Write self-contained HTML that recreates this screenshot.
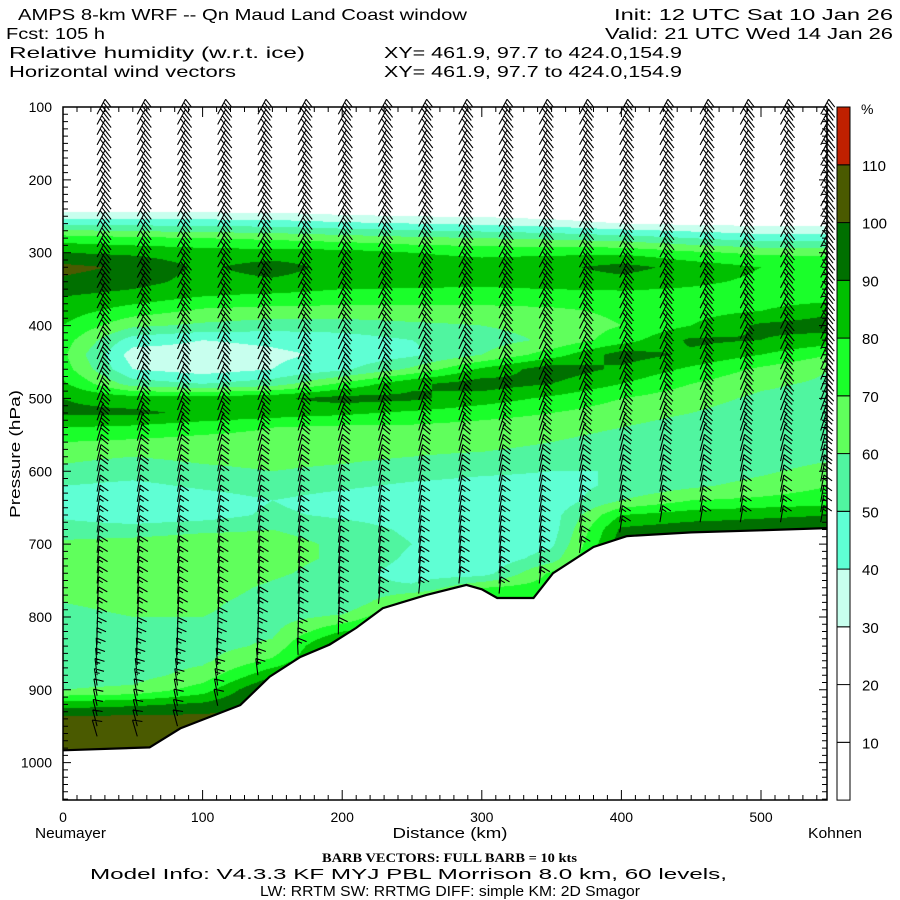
<!DOCTYPE html>
<html><head><meta charset="utf-8"><style>
html,body{margin:0;padding:0;background:#fff;}
#wrap{position:relative;width:900px;height:900px;overflow:hidden;background:#fff;}
#rh{position:absolute;left:63px;top:107px;}
#ov{position:absolute;left:0;top:0;}
text{font-family:"Liberation Sans",sans-serif;fill:#000;}
</style></head><body>
<div id="wrap">
<canvas id="rh" width="764" height="693"></canvas>
<svg id="ov" width="900" height="900">
<g id="hdr">
<text x="18" y="20" font-size="16" textLength="449" lengthAdjust="spacingAndGlyphs">AMPS 8-km WRF -- Qn Maud Land Coast window</text>
<text x="6" y="39" font-size="16" textLength="99" lengthAdjust="spacingAndGlyphs">Fcst:  105 h</text>
<text x="9" y="58" font-size="16" textLength="296" lengthAdjust="spacingAndGlyphs">Relative humidity (w.r.t. ice)</text>
<text x="9" y="77" font-size="16" textLength="227" lengthAdjust="spacingAndGlyphs">Horizontal wind vectors</text>
<text x="384" y="58" font-size="16" textLength="298" lengthAdjust="spacingAndGlyphs">XY= 461.9, 97.7 to 424.0,154.9</text>
<text x="384" y="77" font-size="16" textLength="298" lengthAdjust="spacingAndGlyphs">XY= 461.9, 97.7 to 424.0,154.9</text>
<text x="614" y="20" font-size="16" textLength="279" lengthAdjust="spacingAndGlyphs">Init: 12 UTC Sat 10 Jan 26</text>
<text x="605" y="39" font-size="16" textLength="288" lengthAdjust="spacingAndGlyphs">Valid: 21 UTC Wed 14 Jan 26</text>
</g>
<g id="terr"></g>
<g id="barbs"></g>
<g id="axes"></g>
<g id="cbar"></g>
<text x="450" y="838" font-size="15" text-anchor="middle" textLength="115" lengthAdjust="spacingAndGlyphs">Distance (km)</text>
<text x="35" y="838" font-size="15" textLength="71" lengthAdjust="spacingAndGlyphs">Neumayer</text>
<text x="808" y="838" font-size="15" textLength="54" lengthAdjust="spacingAndGlyphs">Kohnen</text>
<text transform="translate(20,454) rotate(-90)" font-size="15" text-anchor="middle" textLength="128" lengthAdjust="spacingAndGlyphs">Pressure (hPa)</text>
<text x="322" y="862" font-size="13" font-weight="bold" style="font-family:'Liberation Serif',serif" textLength="255" lengthAdjust="spacingAndGlyphs">BARB VECTORS:  FULL BARB = 10 kts</text>
<text x="90" y="879" font-size="15" textLength="637" lengthAdjust="spacingAndGlyphs">Model Info: V4.3.3   KF      MYJ PBL  Morrison          8.0 km,  60 levels,</text>
<text x="260" y="896" font-size="15" textLength="380" lengthAdjust="spacingAndGlyphs">LW: RRTM SW: RRTMG   DIFF: simple KM: 2D Smagor</text>
</svg>
</div>
<script>
// ---------- data ----------
const colKm = [0,50,100,150,200,250,300,350,400,450,500,550];
const levP = [100,220,240,260,280,300,320,340,360,380,400,420,440,460,480,500,520,540,560,580,600,620,640,660,680,700,720,740,760,780,800,820,840,860,880,900,920,940,960,980,1050];
const rhRows = [
[5,5,5,5,5,5,5,5,5,5,5,5],
[10,10,10,10,10,10,10,10,10,10,10,10],
[25,25,25,25,22,20,20,18,15,15,15,15],
[48,47,46,45,42,40,38,35,30,28,27,27],
[75,72,70,68,65,62,60,58,55,50,45,45],
[90,88,85,84,84,80,78,78,78,72,68,68],
[103,98,88,95,86,85,84,87,94,86,80,76],
[98,94,86,88,84,83,82,84,86,82,78,74],
[90,86,80,78,76,76,76,76,76,76,74,75],
[85,75,68,66,66,66,66,68,72,76,80,88],
[80,62,58,55,55,58,60,64,70,80,92,95],
[75,45,40,42,45,50,55,62,75,92,90,85],
[72,35,35,38,42,48,60,75,95,88,80,70],
[75,40,35,40,48,62,82,96,88,78,68,60],
[82,55,50,55,72,88,95,90,80,70,62,58],
[90,85,85,88,94,92,85,78,70,64,58,55],
[92,92,88,85,82,78,74,70,65,60,55,55],
[80,78,74,70,68,68,66,64,60,55,55,55],
[70,68,66,66,65,64,64,60,56,52,52,55],
[62,60,62,63,62,60,58,55,52,50,52,58],
[58,55,58,60,58,55,52,50,50,52,58,65],
[50,47,52,56,52,48,46,46,52,58,64,70],
[45,40,44,50,45,42,41,42,60,70,72,75],
[48,42,45,52,48,45,42,45,80,85,88,90],
[55,55,58,60,55,48,42,45,92,96,96,96],
[62,64,66,64,58,50,42,48,96,96,96,96],
[65,66,68,64,58,48,42,55,96,96,96,96],
[64,66,68,62,55,45,45,72,96,96,96,96],
[62,64,65,58,52,52,70,75,96,96,96,96],
[60,62,62,56,50,75,72,75,96,96,96,96],
[58,60,60,56,62,85,72,75,96,96,96,96],
[56,58,58,58,80,85,72,75,96,96,96,96],
[55,56,56,62,100,85,72,75,96,96,96,96],
[55,55,58,72,100,85,72,75,96,96,96,96],
[56,56,64,88,100,85,72,75,96,96,96,96],
[60,62,75,104,100,85,72,75,96,96,96,96],
[85,88,92,104,100,85,72,75,96,96,96,96],
[104,104,104,104,100,85,72,75,96,96,96,96],
[104,104,104,104,100,85,72,75,96,96,96,96],
[104,104,104,104,100,85,72,75,96,96,96,96],
[104,104,104,104,100,85,72,75,96,96,96,96]
];
const terrKm = [0,62,84,127,148,170,191,210,229,260,289,300,311,337,351,380,404,450,500,547];
const terrP = [983,979,953,921,882,855,838,815,788,770,756,762,774,774,740,704,689,684,681,678];
const barbColKm = [24.4,53.2,82.0,110.8,139.6,168.4,197.2,226.0,254.8,283.6,312.4,341.2,370.0,398.8,427.6,456.4,485.2,514.0,542.8];
const windP = [100,200,300,400,500,600,700,800,900,1000];
const windSpd = [35,35,35,35,30,20,15,15,15,10];
const windDir = [28,28,28,26,22,12,8,5,-10,-20];
const cbLevels = [10,20,30,40,50,60,70,80,90,100,110];
const cbColors = ["#ffffff","#ffffff","#ffffff","#c8ffee","#5fffd4","#50f5a0","#60ff5c","#1aff2a","#00c000","#007000","#4a5a00","#c02000"];
const yTickLabels = [100,200,300,400,500,600,700,800,900,1000];
const xTickLabels = [0,100,200,300,400,500];

// ---------- scales ----------
const X0=63,X1=827,Y0=107,Y1=800;
const kmPx=1.396, pPx=0.7285;
const xK=k=>X0+k*kmPx;
const yP=p=>Y0+(p-100)*pPx;
const NS="http://www.w3.org/2000/svg";
function mk(tag,attrs,parent){const e=document.createElementNS(NS,tag);for(const k in attrs)e.setAttribute(k,attrs[k]);parent.appendChild(e);return e;}
function interp1(xs,ys,x){if(x<=xs[0])return ys[0];for(let i=1;i<xs.length;i++){if(x<=xs[i]){const t=(x-xs[i-1])/(xs[i]-xs[i-1]);return ys[i-1]+t*(ys[i]-ys[i-1]);}}return ys[ys.length-1];}
function sfcP(k){return interp1(terrKm,terrP,k);}
function rhAt(k,p){
  let j=0;while(j<colKm.length-2&&k>colKm[j+1])j++;
  let i=0;while(i<levP.length-2&&p>levP[i+1])i++;
  let tx=(k-colKm[j])/(colKm[j+1]-colKm[j]);tx=Math.max(0,Math.min(1,tx));
  let ty=(p-levP[i])/(levP[i+1]-levP[i]);ty=Math.max(0,Math.min(1,ty));
  const a=rhRows[i][j],b=rhRows[i][j+1],c=rhRows[i+1][j],d=rhRows[i+1][j+1];
  return (a*(1-tx)+b*tx)*(1-ty)+(c*(1-tx)+d*tx)*ty;
}
function hex(c){return [parseInt(c.slice(1,3),16),parseInt(c.slice(3,5),16),parseInt(c.slice(5,7),16)];}
const rgb=cbColors.map(hex);
function colorIdx(v){let n=0;for(const l of cbLevels){if(v>=l)n++;}return n;}

// ---------- raster ----------
(function(){
  const cv=document.getElementById('rh'),ctx=cv.getContext('2d');
  const W=cv.width,H=cv.height,img=ctx.createImageData(W,H),d=img.data;
  for(let px=0;px<W;px++){
    const k=(px+0.5)/kmPx, ps=sfcP(k);
    for(let py=0;py<H;py++){
      const p=100+(py+0.5)/pPx;
      let c=[255,255,255];
      if(p<=ps){c=rgb[colorIdx(rhAt(k,p))];}
      const o=(py*W+px)*4;d[o]=c[0];d[o+1]=c[1];d[o+2]=c[2];d[o+3]=255;
    }
  }
  ctx.putImageData(img,0,0);
})();

// ---------- terrain line ----------
(function(){
  const g=document.getElementById('terr');
  let s='';for(let i=0;i<terrKm.length;i++){s+=(i?'L':'M')+xK(terrKm[i]).toFixed(1)+','+yP(terrP[i]).toFixed(1);}
  const pl=mk('path',{d:s,fill:'none',stroke:'#000','stroke-width':2.2},g);
  
  
})();

// ---------- barbs ----------
(function(){
  const g=document.getElementById('barbs');
  barbColKm.forEach((k,ci)=>{
    const ps=sfcP(k);let s='';
    for(let p=110;p<ps-4;p+=14){
      const spd=interp1(windP,windSpd,p),dir=interp1(windP,windDir,p)*Math.PI/180;
      const x=xK(k),y=yP(p),L=17;
      const dx=Math.sin(dir),dy=-Math.cos(dir);
      const tx=x+dx*L,ty=y+dy*L;
      s+=`M${x.toFixed(1)},${y.toFixed(1)}L${tx.toFixed(1)},${ty.toFixed(1)}`;
      const fa=dir+2.0, fx=Math.sin(fa), fy=-Math.cos(fa);
      let full=Math.floor(spd/10), half=(spd%10)>=5?1:0, pos=0;
      for(let f=0;f<full;f++){const bx=tx-dx*pos,by=ty-dy*pos;s+=`M${bx.toFixed(1)},${by.toFixed(1)}l${(fx*10).toFixed(1)},${(fy*10).toFixed(1)}`;pos+=3.5;}
      if(half){const bx=tx-dx*pos,by=ty-dy*pos;s+=`M${bx.toFixed(1)},${by.toFixed(1)}l${(fx*5).toFixed(1)},${(fy*5).toFixed(1)}`;}
    }
    const b=mk('path',{d:s,fill:'none',stroke:'#000','stroke-width':1.1},g);
    
    
  });
})();

// ---------- axes ----------
(function(){
  const g=document.getElementById('axes');
  const fr=mk('rect',{x:X0,y:Y0,width:X1-X0,height:Y1-Y0,fill:'none',stroke:'#000','stroke-width':1.5},g);
  
  
  let s='';
  for(let p=100;p<=1050;p+=10){const y=yP(p),L=(p%100===0)?8:5;s+=`M${X0},${y.toFixed(1)}h${L}M${X1},${y.toFixed(1)}h${-L}`;}
  for(let k=0;k<=540;k+=10){const x=xK(k),L=(k%100===0)?10:5;s+=`M${x.toFixed(1)},${Y1}v${-L}M${x.toFixed(1)},${Y0}v${L}`;}
  const t=mk('path',{d:s,stroke:'#000','stroke-width':1,fill:'none'},g);
  
  
  yTickLabels.forEach(p=>{
    const e=mk('text',{x:52,y:(yP(p)+5).toFixed(1),'font-size':14,'text-anchor':'end'},g);
    e.textContent=p;
    
    
  });
  xTickLabels.forEach(k=>{
    const e=mk('text',{x:xK(k).toFixed(1),y:822,'font-size':14,'text-anchor':'middle'},g);
    e.textContent=k;
    
    
  });
})();

// ---------- colorbar ----------
(function(){
  const g=document.getElementById('cbar');
  const top=107,bot=800,n=cbColors.length,h=(bot-top)/n;
  for(let i=0;i<n;i++){
    const y=bot-(i+1)*h;
    const r=mk('rect',{x:837,y:y.toFixed(1),width:13,height:h.toFixed(1),fill:cbColors[i],stroke:'#000','stroke-width':1},g);
    
    
  }
  cbLevels.forEach((l,i)=>{
    const y=bot-(i+1)*h;
    const e=mk('text',{x:862,y:(y+6).toFixed(1),'font-size':15},g);
    e.textContent=l;
    
    
  });
  const pc=mk('text',{x:861,y:114,'font-size':14},g);
  pc.textContent='%';
  
  
})();
</script>
</body></html>
